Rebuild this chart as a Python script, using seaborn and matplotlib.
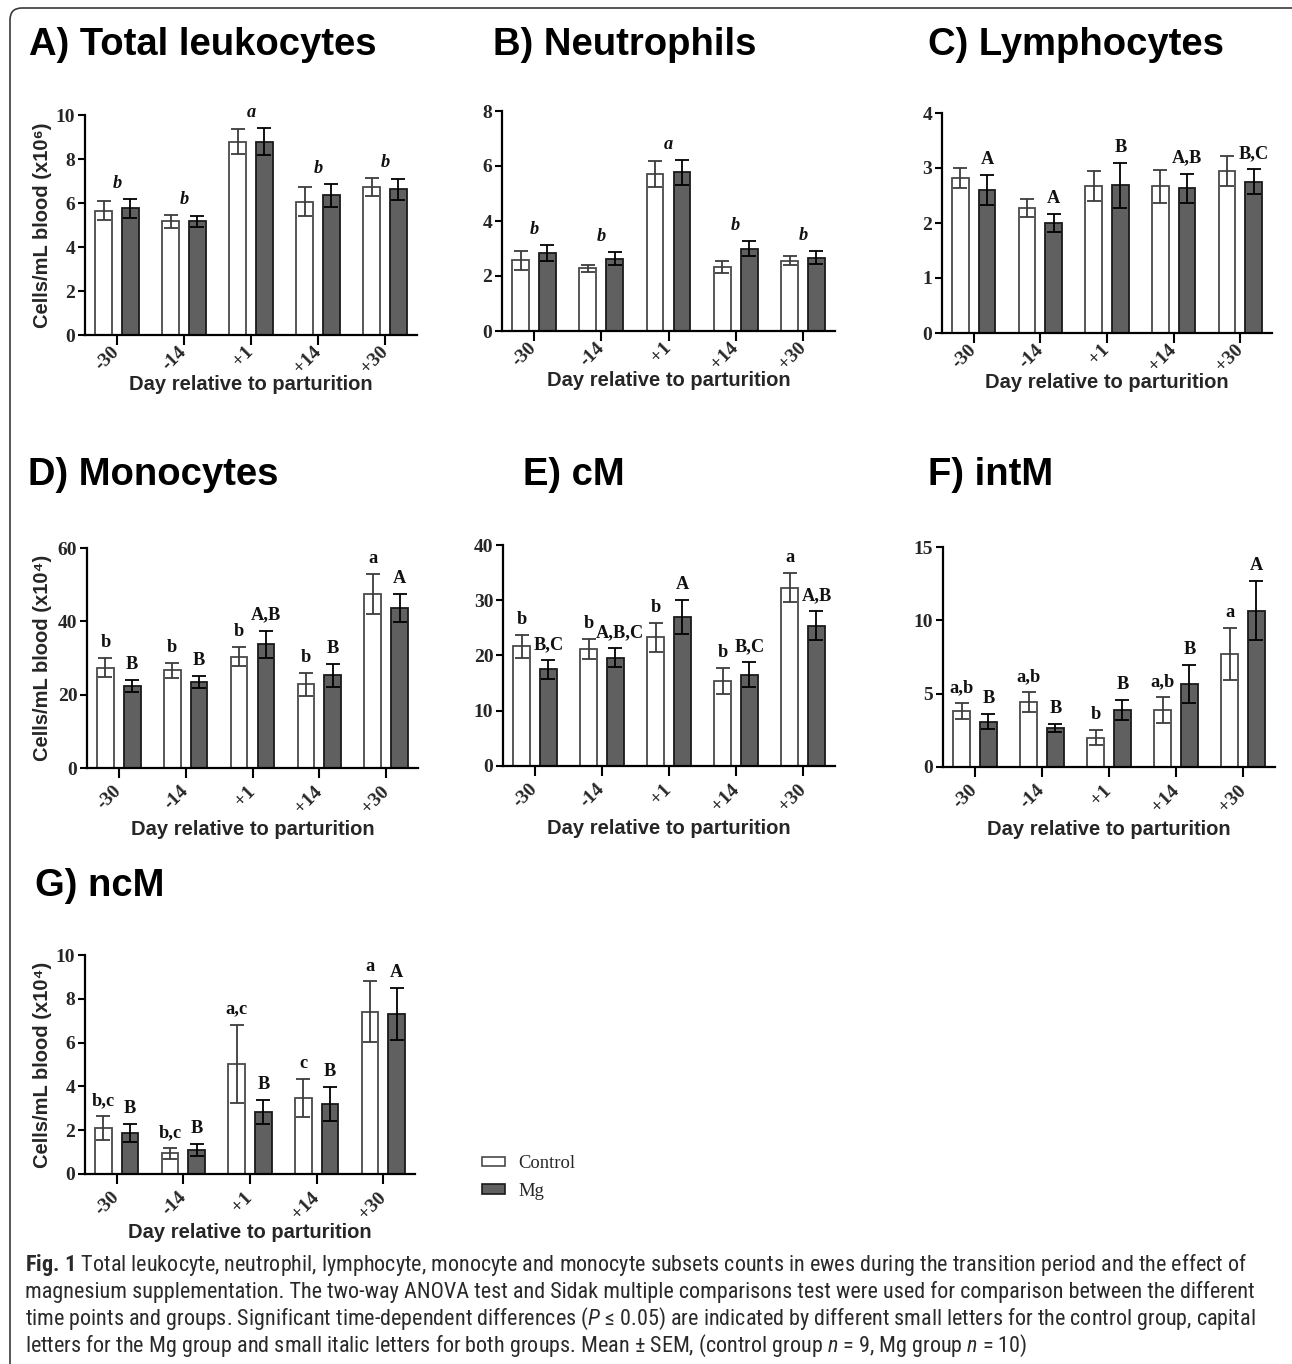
import numpy as np
import pandas as pd
import seaborn as sns
import matplotlib
matplotlib.use("Agg")
import matplotlib.pyplot as plt
from matplotlib import font_manager
from matplotlib.patches import Patch, FancyBboxPatch
from matplotlib.transforms import IdentityTransform

# ---------------------------------------------------------------- data
days = ["-30", "-14", "+1", "+14", "+30"]
groups = ["Control", "Mg"]

leuk_ctrl = [5.65, 5.17, 8.79, 6.05, 6.74]
leuk_ctrl_sem = [0.44, 0.30, 0.58, 0.66, 0.41]
leuk_mg = [5.76, 5.17, 8.79, 6.35, 6.62]
leuk_mg_sem = [0.44, 0.25, 0.62, 0.53, 0.48]
leuk_both_letters = ["b", "b", "a", "b", "b"]

neut_ctrl = [2.57, 2.28, 5.71, 2.34, 2.56]
neut_ctrl_sem = [0.34, 0.13, 0.47, 0.22, 0.17]
neut_mg = [2.85, 2.63, 5.77, 2.99, 2.67]
neut_mg_sem = [0.29, 0.23, 0.46, 0.28, 0.24]
neut_both_letters = ["b", "b", "a", "b", "b"]

lymph_ctrl = [2.82, 2.27, 2.67, 2.67, 2.95]
lymph_ctrl_sem = [0.18, 0.16, 0.27, 0.30, 0.27]
lymph_mg = [2.60, 2.00, 2.69, 2.63, 2.75]
lymph_mg_sem = [0.28, 0.16, 0.41, 0.27, 0.23]
lymph_mg_letters = ["A", "A", "B", "A,B", "B,C"]

mono_ctrl = [27.4, 26.6, 30.4, 22.8, 47.5]
mono_ctrl_sem = [2.7, 2.1, 2.55, 3.2, 5.4]
mono_mg = [22.3, 23.5, 33.8, 25.3, 43.6]
mono_mg_sem = [1.7, 1.6, 3.7, 3.2, 3.8]
mono_ctrl_letters = ["b", "b", "b", "b", "a"]
mono_mg_letters = ["B", "B", "A,B", "B", "A"]

cm_ctrl = [21.7, 21.2, 23.3, 15.35, 32.3]
cm_ctrl_sem = [2.1, 1.8, 2.65, 2.4, 2.7]
cm_mg = [17.5, 19.6, 27.0, 16.55, 25.4]
cm_mg_sem = [1.7, 1.75, 3.1, 2.2, 2.6]
cm_ctrl_letters = ["b", "b", "b", "b", "a"]
cm_mg_letters = ["B,C", "A,B,C", "A", "B,C", "A,B"]

intm_ctrl = [3.8, 4.42, 2.0, 3.87, 7.68]
intm_ctrl_sem = [0.55, 0.66, 0.5, 0.87, 1.77]
intm_mg = [3.1, 2.65, 3.9, 5.64, 10.67]
intm_mg_sem = [0.5, 0.27, 0.7, 1.29, 2.0]
intm_ctrl_letters = ["a,b", "a,b", "b", "a,b", "a"]
intm_mg_letters = ["B", "B", "B", "B", "A"]

ncm_ctrl = [2.08, 0.94, 5.02, 3.48, 7.42]
ncm_ctrl_sem = [0.55, 0.26, 1.8, 0.88, 1.37]
ncm_mg = [1.87, 1.09, 2.84, 3.19, 7.31]
ncm_mg_sem = [0.4, 0.26, 0.56, 0.78, 1.2]
ncm_ctrl_letters = ["b,c", "b,c", "a,c", "c", "a"]
ncm_mg_letters = ["B", "B", "B", "B", "A"]

caption_lines = [
    r"$\mathbf{Fig.\,1}$ Total leukocyte, neutrophil, lymphocyte, monocyte and monocyte subsets counts in ewes during the transition period and the effect of",
    "magnesium supplementation. The two-way ANOVA test and Sidak multiple comparisons test were used for comparison between the different",
    r"time points and groups. Significant time-dependent differences ($\mathit{P}$ ≤ 0.05) are indicated by different small letters for the control group, capital",
    r"letters for the Mg group and small italic letters for both groups. Mean ± SEM, (control group $\mathit{n}$ = 9, Mg group $\mathit{n}$ = 10)",
]

# ---------------------------------------------------------------- style
sns.set_theme(style="ticks")
SANS = ["Liberation Sans", "DejaVu Sans"]
SERIF = ["Liberation Serif", "DejaVu Serif"]
plt.rcParams["font.family"] = SANS

available = {f.name for f in font_manager.fontManager.ttflist}
cap_font = next((f for f in ["Liberation Sans Narrow", "Roboto Condensed", "Open Sans Condensed",
                             "DejaVu Sans Condensed", "Noto Sans", "Open Sans"] if f in available),
                "DejaVu Sans")
plt.rcParams["mathtext.fontset"] = "custom"
plt.rcParams["mathtext.rm"] = cap_font
plt.rcParams["mathtext.it"] = cap_font + ":italic"
plt.rcParams["mathtext.bf"] = cap_font + ":bold"

palette = {"Control": "#ffffff", "Mg": "#606060"}
edge_cols = ["#4a4a4a", "#1a1a1a"]
err_cols = ["#3c3c3c", "#000000"]

TICK_FS = 14
LETTER_FS = 13.2

W, H = 1292, 1364
fig = plt.figure(figsize=(W / 100, H / 100), dpi=100)


def add_ax(left, right, top, bottom):
    return fig.add_axes([left / W, 1 - bottom / H, (right - left) / W, (bottom - top) / H])


def letter(ax, x, y, s, italic=False, dx=0):
    ax.annotate(s, xy=(x, y), xytext=(dx, 5), textcoords="offset points",
                ha="center", va="bottom", family=SERIF, weight="bold",
                style="italic" if italic else "normal", fontsize=LETTER_FS, color="#111111")


def panel(ax, ctrl, ctrl_sem, mg, mg_sem, ymax, ystep, ylabel=None,
          ctrl_letters=None, mg_letters=None, both_letters=None,
          tick_pad=3, xlab_off=50, ylab_off=42):
    df = pd.DataFrame({"day": days * 2,
                       "group": ["Control"] * len(days) + ["Mg"] * len(days),
                       "value": list(ctrl) + list(mg)})
    sns.barplot(data=df, x="day", y="value", hue="group", order=days, hue_order=groups,
                palette=palette, saturation=1, width=0.8, gap=0.375, errorbar=None,
                legend=False, linewidth=1.3, edgecolor="#333333", ax=ax)
    tops = []
    for cont, sems, ec, erc in zip(ax.containers, [ctrl_sem, mg_sem], edge_cols, err_cols):
        xs, hs = [], []
        for bar in cont:
            bar.set_edgecolor(ec)
            xs.append(bar.get_x() + bar.get_width() / 2)
            hs.append(bar.get_height())
        ax.errorbar(xs, hs, yerr=sems, fmt="none", ecolor=erc, elinewidth=1.3,
                    capsize=4.9, capthick=1.3, zorder=4)
        tops.append((xs, [h + s for h, s in zip(hs, sems)]))
    if ctrl_letters:
        for x, t, s in zip(*tops[0], ctrl_letters):
            letter(ax, x, t, s)
    if mg_letters:
        for x, t, s in zip(*tops[1], mg_letters):
            # long Mg labels lean right so they clear the Control label
            letter(ax, x, t, s, dx=3 if len(s) > 3 else 0)
    if both_letters:
        for i, s in enumerate(both_letters):
            letter(ax, i, max(tops[0][1][i], tops[1][1][i]), s, italic=True)

    ax.set_xlim(-0.476, len(days) - 1 + 0.476)
    ax.set_ylim(0, ymax)
    yt = np.arange(0, ymax + ystep / 2, ystep)
    ax.set_yticks(yt, labels=[f"{v:g}" for v in yt], family=SERIF, weight="bold", fontsize=TICK_FS)
    ax.set_xticks(range(len(days)), labels=days, rotation=45, ha="right", va="center",
                  rotation_mode="anchor", family=SERIF, weight="bold", fontsize=TICK_FS)
    for side in ("top", "right"):
        ax.spines[side].set_visible(False)
    for side in ("left", "bottom"):
        ax.spines[side].set_linewidth(1.6)
        ax.spines[side].set_color("black")
    ax.tick_params(axis="y", direction="out", length=5, width=1.5, color="black", pad=2)
    ax.tick_params(axis="x", direction="out", length=7, width=1.5, color="black", pad=tick_pad)
    ax.set_facecolor("white")
    bbox = ax.get_position()
    hpx, wpx = bbox.height * H, bbox.width * W
    ax.set_xlabel("Day relative to parturition", fontsize=14.5, weight="bold", va="center")
    ax.xaxis.set_label_coords(0.5, -xlab_off / hpx)
    if ylabel:
        ax.set_ylabel(ylabel, fontsize=14.5, weight="bold", va="center", family=SANS)
        ax.yaxis.set_label_coords(-ylab_off / wpx, 0.5)
    else:
        ax.set_ylabel("")


axA = add_ax(85, 417, 115, 335)
panel(axA, leuk_ctrl, leuk_ctrl_sem, leuk_mg, leuk_mg_sem, 10, 2,
      ylabel="Cells/mL blood (x10⁶)", both_letters=leuk_both_letters)
axB = add_ax(502, 835, 111, 331)
panel(axB, neut_ctrl, neut_ctrl_sem, neut_mg, neut_mg_sem, 8, 2, both_letters=neut_both_letters)
axC = add_ax(942, 1272, 113, 333)
panel(axC, lymph_ctrl, lymph_ctrl_sem, lymph_mg, lymph_mg_sem, 4, 1, mg_letters=lymph_mg_letters)

axD = add_ax(87, 418, 548, 768)
panel(axD, mono_ctrl, mono_ctrl_sem, mono_mg, mono_mg_sem, 60, 20,
      ylabel="Cells/mL blood (x10⁴)", ctrl_letters=mono_ctrl_letters, mg_letters=mono_mg_letters,
      tick_pad=8, xlab_off=61, ylab_off=44)
axE = add_ax(503, 835, 545, 766)
panel(axE, cm_ctrl, cm_ctrl_sem, cm_mg, cm_mg_sem, 40, 10,
      ctrl_letters=cm_ctrl_letters, mg_letters=cm_mg_letters, tick_pad=8, xlab_off=63)
axF = add_ax(943, 1275, 547, 767)
panel(axF, intm_ctrl, intm_ctrl_sem, intm_mg, intm_mg_sem, 15, 5,
      ctrl_letters=intm_ctrl_letters, mg_letters=intm_mg_letters, tick_pad=8, xlab_off=63)

axG = add_ax(85, 415, 955, 1174)
panel(axG, ncm_ctrl, ncm_ctrl_sem, ncm_mg, ncm_mg_sem, 10, 2,
      ylabel="Cells/mL blood (x10⁴)", ctrl_letters=ncm_ctrl_letters, mg_letters=ncm_mg_letters,
      tick_pad=8, xlab_off=58)

# panel titles
titles = [("A) Total leukocytes", 29, 55), ("B) Neutrophils", 493, 55), ("C) Lymphocytes", 928, 55),
          ("D) Monocytes", 28, 485), ("E) cM", 523, 485), ("F) intM", 928, 485),
          ("G) ncM", 35, 896)]
for s, x, y in titles:
    fig.text(x / W, 1 - y / H, s, fontsize=27.5, weight="bold", family=SANS,
             ha="left", va="baseline", color="black")

# legend
handles = [Patch(facecolor=palette[g], edgecolor=ec, linewidth=1.2) for g, ec in zip(groups, edge_cols)]
fig.legend(handles, groups, loc="center left", bbox_to_anchor=(482 / W, 1 - 1177.5 / H),
           frameon=False, prop={"family": SERIF, "size": 13.4}, handlelength=1.25,
           handleheight=0.38, handletextpad=0.7, labelspacing=0.55, borderpad=0, borderaxespad=0)

# caption, sized so that the first line spans the text block width
renderer = fig.canvas.get_renderer()
probe = fig.text(0, 0, caption_lines[0], fontsize=12, family=[cap_font, "DejaVu Sans"])
pw = probe.get_window_extent(renderer).width
probe.remove()
cap_size = 12 * 1222 / pw
for i, line in enumerate(caption_lines):
    fig.text(25 / W, 1 - (1265 + 27 * i) / H, line, fontsize=cap_size,
             family=[cap_font, "DejaVu Sans"], color="#2a2a2a", ha="left", va="center")

# rounded frame around the figure panel
frame = FancyBboxPatch((10, -20), 1320, 1356 + 20, boxstyle="round,pad=0,rounding_size=12",
                       transform=IdentityTransform(), facecolor="none", edgecolor="#3a3a3a",
                       linewidth=1.2, zorder=10)
fig.patches.append(frame)

fig.savefig("out.png", dpi=100, facecolor="white")
